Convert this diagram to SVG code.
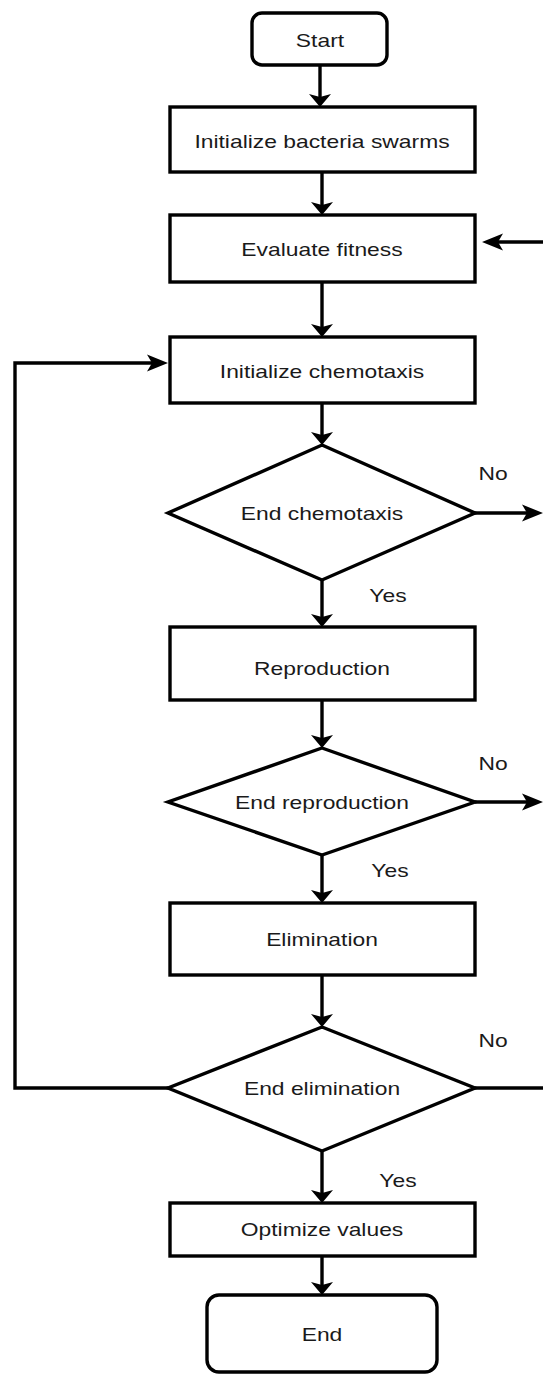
<svg xmlns="http://www.w3.org/2000/svg" width="543" height="1374" viewBox="0 0 543 1374">
  <style>
    .box { fill: #ffffff; stroke: #000000; stroke-width: 3.4; }
    .lbl { font-family: "Liberation Sans", Arial, sans-serif; font-size: 18px; fill: #1a1a1a; text-anchor: middle; dominant-baseline: central; }
    .edge { fill: none; stroke: #000000; stroke-width: 3.4; }
    .av { marker-end: url(#headV); }
    .ah { marker-end: url(#headH); }
  </style>
  <defs>
    <!-- arrowhead for vertical flow lines (short and wide) -->
    <marker id="headV" markerUnits="userSpaceOnUse" markerWidth="30" markerHeight="30" refX="7" refY="0" orient="auto" overflow="visible" viewBox="-15 -15 30 30">
      <path d="M0,-11 L13,0 L0,11 L3,0 Z" fill="#000000"/>
    </marker>
    <!-- arrowhead for horizontal flow lines (long and narrow) -->
    <marker id="headH" markerUnits="userSpaceOnUse" markerWidth="30" markerHeight="30" refX="13" refY="0" orient="auto" overflow="visible" viewBox="-15 -15 30 30">
      <path d="M0,-8.5 L21,0 L0,8.5 L5,0 Z" fill="#000000"/>
    </marker>
  </defs>

  <rect width="543" height="1374" fill="#ffffff"/>

  <!-- connectors -->
  <g id="connectors">
    <path class="edge av" d="M320,65 V101"/>
    <path class="edge av" d="M322,172 V209"/>
    <path class="edge ah" d="M543,242 H490"/>
    <path class="edge av" d="M322,282 V331"/>
    <path class="edge av" d="M322,403 V439"/>
    <path class="edge ah" d="M475,513 H535"/>
    <path class="edge av" d="M322,580 V621"/>
    <path class="edge av" d="M322,700 V742"/>
    <path class="edge ah" d="M475,802 H535"/>
    <path class="edge av" d="M322,855 V897"/>
    <path class="edge av" d="M322,975 V1021"/>
    <path class="edge" d="M475,1088 H543"/>
    <path class="edge ah" d="M168,1088 H15 V363 H160"/>
    <path class="edge av" d="M322,1151 V1197"/>
    <path class="edge av" d="M322,1256 V1289"/>
    <text class="lbl" transform="matrix(1.27 0 0 1 493 473)">No</text>
    <text class="lbl" transform="matrix(1.27 0 0 1 388 595)">Yes</text>
    <text class="lbl" transform="matrix(1.27 0 0 1 493 763)">No</text>
    <text class="lbl" transform="matrix(1.27 0 0 1 390 870)">Yes</text>
    <text class="lbl" transform="matrix(1.27 0 0 1 493 1040)">No</text>
    <text class="lbl" transform="matrix(1.27 0 0 1 398 1180)">Yes</text>
  </g>

  <g id="start">
    <rect class="box" x="252" y="13" width="135" height="52" rx="10"/>
    <text class="lbl" transform="matrix(1.27 0 0 1 320 40)">Start</text>
  </g>
  <g id="init-swarms">
    <rect class="box" x="170" y="107" width="305" height="65"/>
    <text class="lbl" transform="matrix(1.27 0 0 1 322 141)">Initialize bacteria swarms</text>
  </g>
  <g id="evaluate">
    <rect class="box" x="170" y="215" width="305" height="67"/>
    <text class="lbl" transform="matrix(1.27 0 0 1 322 249)">Evaluate fitness</text>
  </g>
  <g id="init-chemotaxis">
    <rect class="box" x="170" y="337" width="305" height="66"/>
    <text class="lbl" transform="matrix(1.27 0 0 1 322 371)">Initialize chemotaxis</text>
  </g>
  <g id="end-chemotaxis">
    <polygon class="box" points="322,445 475,513 322,580 168,513"/>
    <text class="lbl" transform="matrix(1.27 0 0 1 322 513)">End chemotaxis</text>
  </g>
  <g id="reproduction">
    <rect class="box" x="170" y="627" width="305" height="73"/>
    <text class="lbl" transform="matrix(1.27 0 0 1 322 668)">Reproduction</text>
  </g>
  <g id="end-reproduction">
    <polygon class="box" points="322,748 475,802 322,855 168,802"/>
    <text class="lbl" transform="matrix(1.27 0 0 1 322 802)">End reproduction</text>
  </g>
  <g id="elimination">
    <rect class="box" x="170" y="903" width="305" height="72"/>
    <text class="lbl" transform="matrix(1.27 0 0 1 322 939)">Elimination</text>
  </g>
  <g id="end-elimination">
    <polygon class="box" points="322,1027 475,1088 322,1151 168,1088"/>
    <text class="lbl" transform="matrix(1.27 0 0 1 322 1088)">End elimination</text>
  </g>
  <g id="optimize">
    <rect class="box" x="170" y="1203" width="305" height="53"/>
    <text class="lbl" transform="matrix(1.27 0 0 1 322 1229)">Optimize values</text>
  </g>
  <g id="end">
    <rect class="box" x="207" y="1295" width="230" height="77" rx="12"/>
    <text class="lbl" transform="matrix(1.27 0 0 1 322 1334)">End</text>
  </g>
</svg>
